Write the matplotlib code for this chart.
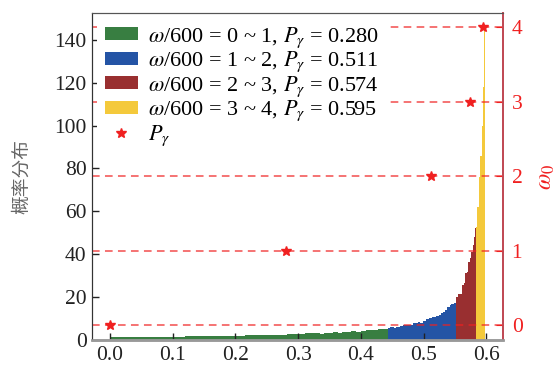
import numpy as np
import matplotlib
matplotlib.use("Agg")
import matplotlib.pyplot as plt
from matplotlib.patches import Patch
from matplotlib.lines import Line2D

plt.rcParams['font.family'] = ['Liberation Serif', 'Noto Sans CJK SC', 'DejaVu Sans']
plt.rcParams['mathtext.fontset'] = 'stix'

# ---- data ----
green_edges = [0.000, 0.099, 0.119, 0.215, 0.282, 0.299, 0.311, 0.335, 0.341, 0.355,
               0.363, 0.370, 0.385, 0.393, 0.400, 0.408, 0.428, 0.443]
green_heights = [1.4, 1.2, 1.9, 2.3, 2.9, 2.6, 3.3, 2.8, 3.3, 3.7, 3.3, 3.7, 4.2, 3.7,
                 4.2, 4.7, 5.1]
blue_edges = [0.443, 0.446, 0.4524, 0.4556, 0.4619, 0.4672, 0.4726, 0.4832, 0.4911,
              0.4949, 0.4991, 0.5033, 0.5087, 0.5134, 0.5177, 0.5204, 0.5241, 0.5272,
              0.5309, 0.5336, 0.5378, 0.5416, 0.5442, 0.5479, 0.5511]
blue_heights = [5.4, 5.9, 5.6, 5.9, 6.5, 6.8, 7.1, 7.8, 8.2, 8.0, 9.0, 9.6, 10.1, 10.9,
                10.6, 11.3, 11.8, 12.8, 13.2, 14.0, 15.2, 16.2, 16.6, 17.1]
red_edges = [0.5511, 0.5522, 0.5548, 0.5612, 0.5639, 0.5655, 0.5692, 0.5708, 0.5734,
             0.5761, 0.5787, 0.5803, 0.5825, 0.5841]
red_heights = [18.3, 20.2, 21.5, 25.7, 26.4, 31.1, 31.9, 36.5, 38.1, 41.2, 44.3, 48.2, 52.1]
yellow_edges = [0.5841, 0.5857, 0.5878, 0.5905, 0.5925, 0.5945, 0.5963, 0.5985]
yellow_heights = [52.9, 62.2, 76.0, 86.0, 100.0, 118.0, 145.5]

p_gamma = [0.0, 0.280, 0.511, 0.574, 0.595]
omega0 = [0, 1, 2, 3, 4]

labels = [r'$\omega$/600 = 0 ~ 1, $P_\gamma$ = 0.280',
          r'$\omega$/600 = 1 ~ 2, $P_\gamma$ = 0.511',
          r'$\omega$/600 = 2 ~ 3, $P_\gamma$ = 0.574',
          r'$\omega$/600 = 3 ~ 4, $P_\gamma$ = 0.595']
star_label = r'$P_\gamma$'

x_ticks = [0.0, 0.1, 0.2, 0.3, 0.4, 0.5, 0.6]
y_ticks = [0, 20, 40, 60, 80, 100, 120, 140]

colors = ['#387e41', '#2454a5', '#992f30', '#f4c93b']
red = '#f02020'

fig = plt.figure(figsize=(5.58, 3.65), dpi=100)
ax = fig.add_axes([0.1654, 0.0685, 0.7366, 0.896])

groups = [(green_edges, green_heights), (blue_edges, blue_heights),
          (red_edges, red_heights), (yellow_edges, yellow_heights)]
for (e, h), c in zip(groups, colors):
    e = np.asarray(e)
    ax.bar(e[:-1], h, width=np.diff(e), align='edge', color=c, linewidth=0)

ax.set_xlim(-0.028, 0.627)
ax.set_ylim(0, 152.5)
ax.set_xticks(x_ticks)
ax.set_yticks(y_ticks)
ax.tick_params(direction='in', labelsize=15.5, length=5, width=1, colors='#222222', pad=4)
ax.set_ylabel('概率分布', fontsize=13.5, color='#666666',
              family=['Noto Sans CJK SC', 'DejaVu Sans'], labelpad=16)

ax2 = ax.twinx()
ax2.set_ylim(-0.2, 4.19)
ax2.set_yticks(omega0)
for w in omega0:
    ax2.axhline(w, color=red, alpha=0.8, lw=1.1, ls=(0, (5, 3.5)), zorder=1)
ax2.plot(p_gamma, omega0, ls='none', marker='*', ms=7.5, color=red, mec=red, zorder=3)
ax2.tick_params(direction='in', labelsize=15.5, length=5, colors=red, pad=6)
ax2.set_ylabel(r'$\omega_0$', fontsize=17, color=red, labelpad=10)

for a in (ax, ax2):
    a.spines['left'].set_color('#333333')
    a.spines['bottom'].set_color('#999999')
    a.spines['bottom'].set_linewidth(1.8)
    a.spines['top'].set_color('#555555')
    a.spines['right'].set_color('#c04a55')
    a.spines['right'].set_linewidth(1.3)

handles = [Patch(facecolor=c, edgecolor='none') for c in colors]
handles.append(Line2D([], [], ls='none', marker='*', ms=7.5, color=red))
leg = ax2.legend(handles, labels + [star_label], loc='upper left',
                 bbox_to_anchor=(0.0, 1.0), fontsize=16, frameon=True,
                 facecolor='white', edgecolor='none', framealpha=1,
                 handlelength=1.5, handleheight=0.5, labelspacing=0.0,
                 handletextpad=0.45, borderpad=0.35, borderaxespad=0.2)
leg.set_zorder(10)

fig.savefig('out.png', dpi=100)
